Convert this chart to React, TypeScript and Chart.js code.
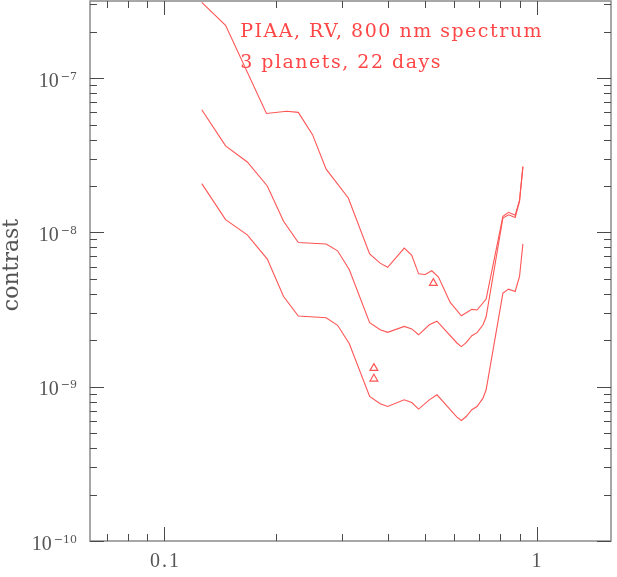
import { useEffect, useRef } from 'react';
import Chart from 'chart.js/auto';

// ---- axis ranges ----
const X_MIN = 0.0631;
const X_MAX = 1.585;
const Y_MIN = 1e-10;
const Y_MAX = 3.16e-7;

// ---- tick labels ----
const X_TICK_VALUES = [0.1, 1];
const X_TICK_TEXT = ['0.1', '1'];
const Y_TICK_POWERS = [-10, -9, -8, -7];

// ---- upper curve ----
const TOP_X = [0.126, 0.146, 0.188, 0.213, 0.229, 0.250, 0.272, 0.312, 0.356, 0.380, 0.398, 0.441, 0.462, 0.482, 0.502, 0.523, 0.545, 0.586, 0.628, 0.670, 0.692, 0.732, 0.812, 0.841, 0.876, 0.900, 0.919];
const TOP_Y = [3.1e-7, 2.2e-7, 5.9e-8, 6.1e-8, 6.0e-8, 4.3e-8, 2.57e-8, 1.67e-8, 7.26e-9, 6.32e-9, 5.94e-9, 7.91e-9, 7.1e-9, 5.39e-9, 5.34e-9, 5.64e-9, 5.13e-9, 3.52e-9, 2.88e-9, 3.17e-9, 3.14e-9, 3.7e-9, 1.27e-8, 1.35e-8, 1.29e-8, 1.62e-8, 2.67e-8];

// ---- middle and lower curves share the same separations ----
const SEP_X = [0.126, 0.146, 0.167, 0.189, 0.209, 0.229, 0.272, 0.292, 0.314, 0.356, 0.380, 0.398, 0.441, 0.462, 0.482, 0.515, 0.540, 0.611, 0.628, 0.647, 0.670, 0.692, 0.718, 0.732, 0.812, 0.841, 0.876, 0.900, 0.919];
const MID_Y = [6.23e-8, 3.64e-8, 2.86e-8, 2.0e-8, 1.18e-8, 8.6e-9, 8.41e-9, 7.6e-9, 5.72e-9, 2.6e-9, 2.34e-9, 2.25e-9, 2.46e-9, 2.37e-9, 2.17e-9, 2.52e-9, 2.66e-9, 1.92e-9, 1.82e-9, 1.93e-9, 2.14e-9, 2.24e-9, 2.52e-9, 2.84e-9, 1.24e-8, 1.30e-8, 1.25e-8, 1.59e-8, 2.67e-8];
const LOW_Y = [2.07e-8, 1.21e-8, 9.65e-9, 6.71e-9, 3.84e-9, 2.87e-9, 2.8e-9, 2.5e-9, 1.9e-9, 8.64e-10, 7.75e-10, 7.44e-10, 8.22e-10, 7.9e-10, 7.16e-10, 8.22e-10, 8.86e-10, 6.35e-10, 6.04e-10, 6.41e-10, 7.09e-10, 7.44e-10, 8.43e-10, 9.55e-10, 4.04e-9, 4.29e-9, 4.14e-9, 5.18e-9, 8.43e-9];

// ---- planets (triangles) ----
const PLANET_X = [0.3655, 0.3655, 0.528];
const PLANET_Y = [1.32e-9, 1.125e-9, 4.69e-9];

// ---- annotation ----
const NOTE_LINES = ['PIAA, RV, 800 nm spectrum', '3 planets, 22 days'];
const NOTE_X = 0.1598;
const NOTE_Y = [1.86e-7, 1.16e-7];
const Y_TITLE = 'contrast';

const RED = 'rgb(255,85,85)';
const TEXT_RED = 'rgb(255,70,70)';
const FRAME_COLOR = '#8a8a8a';
const TICK_COLOR = '#4a4a4a';
const LABEL_COLOR = '#555555';

const zip = (xs: number[], ys: number[]) => xs.map((x, i) => ({ x, y: ys[i] }));

const decorPlugin = {
  id: 'decor',
  afterDraw(chart: any) {
    const { ctx, chartArea, scales } = chart;
    const xs = scales.x;
    const ys = scales.y;
    const { left, right, top, bottom } = chartArea;
    ctx.save();
    // frame
    ctx.strokeStyle = FRAME_COLOR;
    ctx.lineWidth = 1.5;
    ctx.strokeRect(left, top, right - left, bottom - top);
    // inward ticks
    ctx.strokeStyle = TICK_COLOR;
    ctx.lineWidth = 1;
    ctx.beginPath();
    for (let p = -2; p <= 1; p++) {
      for (let m = 1; m <= 9; m++) {
        const v = m * Math.pow(10, p);
        if (v < X_MIN || v > X_MAX) continue;
        const px = Math.round(xs.getPixelForValue(v)) + 0.5;
        const len = m === 1 ? 14 : 7;
        ctx.moveTo(px, bottom);
        ctx.lineTo(px, bottom - len);
        ctx.moveTo(px, top);
        ctx.lineTo(px, top + len);
      }
    }
    for (let p = -11; p <= -6; p++) {
      for (let m = 1; m <= 9; m++) {
        const v = m * Math.pow(10, p);
        if (v < Y_MIN * 0.999 || v > Y_MAX) continue;
        const py = Math.round(ys.getPixelForValue(v)) + 0.5;
        const len = m === 1 ? 14 : 7;
        ctx.moveTo(left, py);
        ctx.lineTo(left + len, py);
        ctx.moveTo(right, py);
        ctx.lineTo(right - len, py);
      }
    }
    ctx.stroke();

    // x tick labels
    ctx.fillStyle = LABEL_COLOR;
    ctx.font = '20px "Liberation Serif"';
    ctx.textAlign = 'center';
    ctx.textBaseline = 'alphabetic';
    (ctx as any).letterSpacing = '2px';
    X_TICK_VALUES.forEach((v, i) => {
      const px = xs.getPixelForValue(v);
      ctx.fillText(X_TICK_TEXT[i], px + 1, bottom + 26);
    });
    (ctx as any).letterSpacing = '0px';

    // y tick labels: 10 with superscript exponent
    Y_TICK_POWERS.forEach((p) => {
      const py = ys.getPixelForValue(Math.pow(10, p));
      const base = '10';
      const sup = '\u2212' + String(-p);
      ctx.font = '20px "Liberation Serif"';
      const wb = ctx.measureText(base).width;
      ctx.font = '11px "DejaVu Serif"';
      const ws = ctx.measureText(sup).width;
      const rightEdge = left - 13;
      const x0 = rightEdge - ws - 2 - wb;
      ctx.textAlign = 'left';
      ctx.textBaseline = 'alphabetic';
      ctx.font = '20px "Liberation Serif"';
      ctx.fillText(base, x0, py + 8.5);
      ctx.font = '11px "DejaVu Serif"';
      ctx.fillText(sup, x0 + wb + 2, py + 1.5);
    });

    // y axis title
    ctx.save();
    ctx.translate(18, (top + bottom) / 2 - 6);
    ctx.rotate(-Math.PI / 2);
    ctx.font = '22px "DejaVu Serif"';
    ctx.textAlign = 'center';
    ctx.textBaseline = 'alphabetic';
    ctx.fillStyle = LABEL_COLOR;
    ctx.fillText(Y_TITLE, 0, 0);
    ctx.restore();

    // annotation
    ctx.fillStyle = TEXT_RED;
    ctx.font = '19px "DejaVu Serif"';
    ctx.textAlign = 'left';
    ctx.textBaseline = 'alphabetic';
    (ctx as any).letterSpacing = '1.5px';
    NOTE_LINES.forEach((t, i) => {
      ctx.fillText(t, xs.getPixelForValue(NOTE_X), ys.getPixelForValue(NOTE_Y[i]));
    });
    (ctx as any).letterSpacing = '0px';
    ctx.restore();
  },
};

export default function App() {
  const ref = useRef<HTMLCanvasElement | null>(null);
  useEffect(() => {
    if (!ref.current) return;
    const lineDs = (data: any[]) => ({
      type: 'line' as const,
      data,
      borderColor: RED,
      borderWidth: 1.1,
      pointRadius: 0,
      tension: 0,
      fill: false,
    });
    const chart = new Chart(ref.current, {
      type: 'line',
      data: {
        datasets: [
          lineDs(zip(TOP_X, TOP_Y)),
          lineDs(zip(SEP_X, MID_Y)),
          lineDs(zip(SEP_X, LOW_Y)),
          {
            type: 'line' as const,
            data: zip(PLANET_X, PLANET_Y),
            showLine: false,
            pointStyle: 'triangle',
            pointRadius: 4.5,
            pointBorderColor: RED,
            pointBackgroundColor: 'rgba(0,0,0,0)',
            pointBorderWidth: 1.2,
            borderColor: RED,
          },
        ],
      },
      options: {
        animation: false,
        responsive: false,
        devicePixelRatio: 1,
        layout: { autoPadding: false, padding: { left: 0, top: 1, right: 6, bottom: 0 } },
        plugins: { legend: { display: false }, tooltip: { enabled: false } },
        scales: {
          x: {
            type: 'logarithmic',
            min: X_MIN,
            max: X_MAX,
            ticks: { display: false },
            grid: { display: false },
            border: { display: false },
            afterFit: (s: any) => { s.height = 36; },
          },
          y: {
            type: 'logarithmic',
            min: Y_MIN,
            max: Y_MAX,
            ticks: { display: false },
            grid: { display: false },
            border: { display: false },
            afterFit: (s: any) => { s.width = 90; },
          },
        },
      },
      plugins: [decorPlugin],
    } as any);
    return () => chart.destroy();
  }, []);
  return (
    <div style={{ position: 'fixed', left: 0, top: 0, width: 617, height: 577, background: '#fff' }}>
      <canvas ref={ref} width={617} height={577} style={{ display: 'block', width: 617, height: 577 }} />
    </div>
  );
}
